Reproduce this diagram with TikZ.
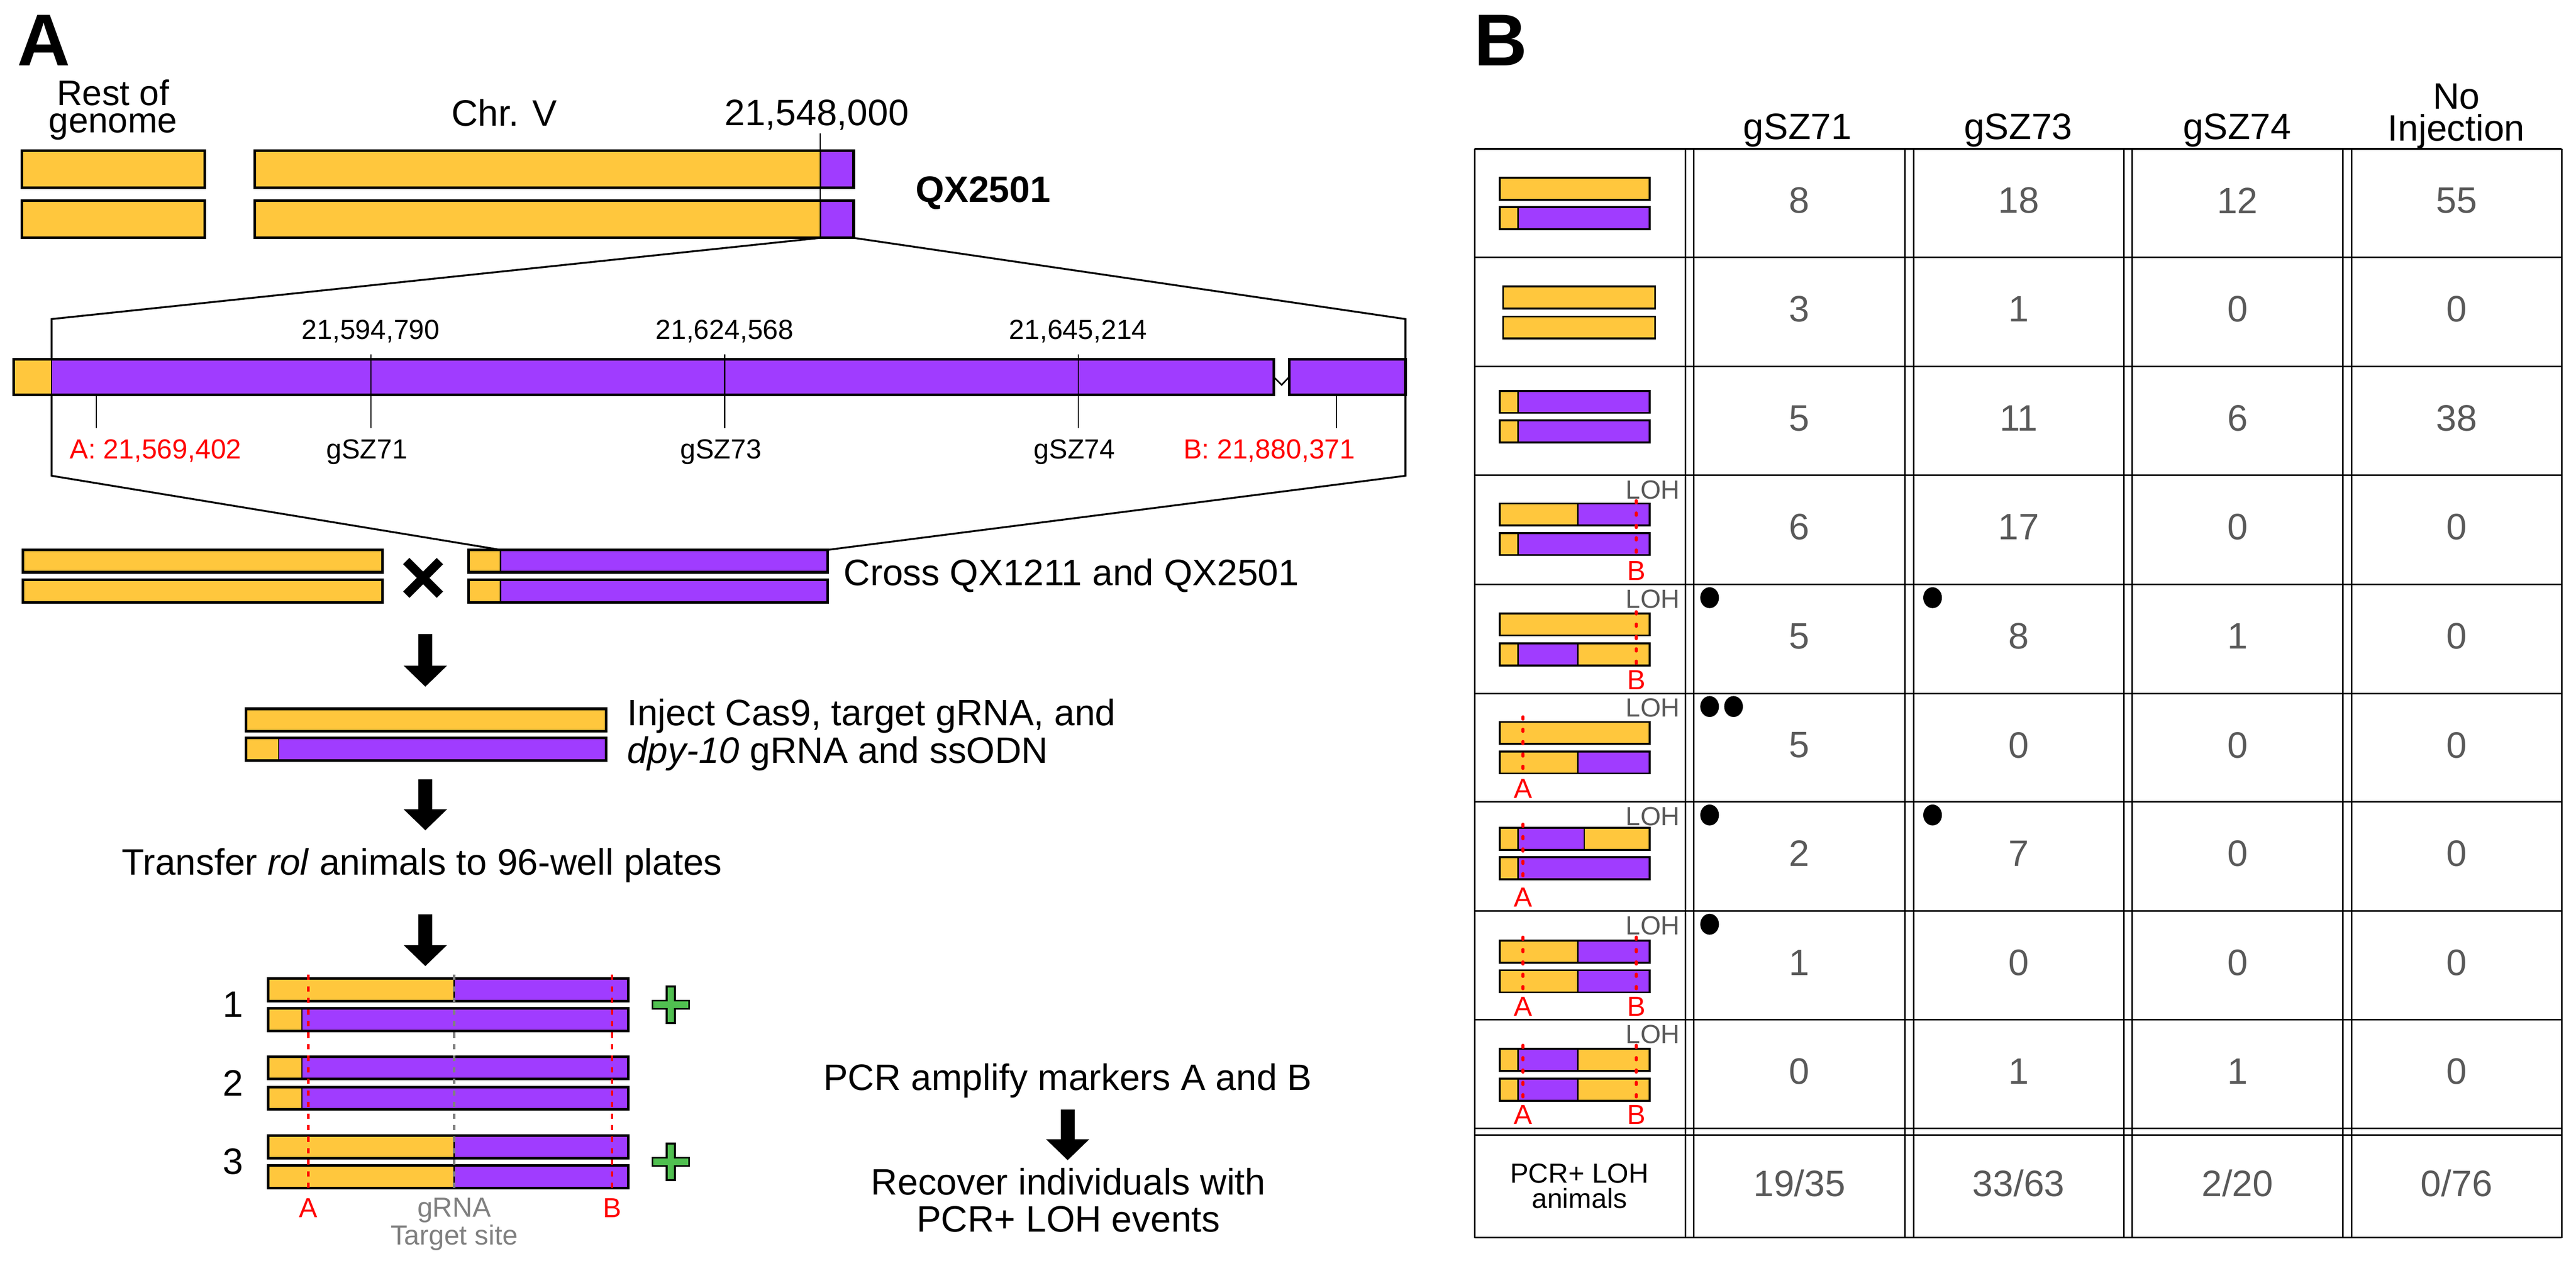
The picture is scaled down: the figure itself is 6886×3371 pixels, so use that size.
\documentclass[tikz,border=0pt]{standalone}
\usepackage{fontspec}
\setmainfont{Liberation Sans}
\usetikzlibrary{arrows.meta}
\definecolor{chryel}{RGB}{255,199,61}
\definecolor{chrpur}{RGB}{160,60,255}
\definecolor{plusgrn}{RGB}{80,192,80}
\definecolor{cntgray}{RGB}{89,89,89}
\tikzstyle{txt}=[inner sep=0pt, font=\fontsize{14}{14}\selectfont]
\tikzstyle{small}=[inner sep=0pt, font=\fontsize{10.5}{10.5}\selectfont]
\tikzstyle{panel}=[inner sep=0pt, font=\fontsize{28}{28}\selectfont\bfseries]
\tikzstyle{count}=[txt, text=cntgray]
\tikzstyle{redlbl}=[small, text=red]
\tikzstyle{loh}=[inner sep=0pt, font=\fontsize{10}{10}\selectfont, text=cntgray]
\tikzstyle{flow}=[line width=5.4pt, -{Triangle[width=16pt,length=8pt]}]
\tikzstyle{zoomline}=[line width=0.7pt]
\tikzstyle{tick}=[line width=0.4pt]
\tikzstyle{cut}=[red, line width=0.9pt, dash pattern=on 2pt off 2.4pt]
\tikzstyle{site}=[cut, gray]
\tikzstyle{cutb}=[red, line width=1pt, line cap=round, dash pattern=on 1pt off 3.7pt]
\tikzstyle{grid}=[line width=0.6pt]
% bar: [outline] left, purple from, purple to, right, top, height
\newcommand{\chbar}[7][1pt]{%
  \fill[chryel] (#2,#6) rectangle (#5,#6+#7);
  \ifdim #3pt<#4pt
    \fill[chrpur] (#3,#6) rectangle (#4,#6+#7);
    \draw[line width=0.5pt] (#3,#6) -- (#3,#6+#7) (#4,#6) -- (#4,#6+#7);
  \fi
  \draw[line width=#1] (#2,#6) rectangle (#5,#6+#7);}
\newcommand{\pcrplus}[1]{%
  \filldraw[fill=plusgrn, line width=0.7pt, shift={(#1)}]
    (-11,-49) -- (11,-49) -- (11,-11) -- (49,-11) -- (49,11) -- (11,11) -- (11,49)
    -- (-11,49) -- (-11,11) -- (-49,11) -- (-49,-11) -- (-11,-11) -- cycle;}

\begin{document}
\begin{tikzpicture}[x=0.005cm, y=-0.005cm]
\useasboundingbox (0,0) rectangle (6886,3371);

\node[panel, anchor=base west] (pA) at (45,176) {A};
\node[panel, anchor=base west] (pB) at (3939,176) {B};

% parental chromosomes
\node[inner sep=0pt, align=center, font=\fontsize{13.5}{10.3}\selectfont] (rest) at (302,294) {Rest of\\genome};
\node[txt, anchor=base] (chrV) at (1348,337) {Chr. V};
\node[txt, anchor=base] (brk) at (2183,335) {21,548,000};
\node[txt, anchor=base west, font=\fontsize{14}{14}\selectfont\bfseries] (qx) at (2446,540) {QX2501};
\chbar{58}{0}{0}{547}{403}{99}
\chbar{58}{0}{0}{547}{537}{99}
\chbar{681}{2193}{2282}{2282}{403}{99}
\chbar{681}{2193}{2282}{2282}{537}{99}
\draw[tick] (2193,357) -- (2193,636);

% zoom in on the right arm
\coordinate (zl) at (2193,636);
\coordinate (zr) at (2282,636);
\draw[zoomline] (zl) -- (138,853) -- (138,1272) -- (1338,1470);
\draw[zoomline] (zr) -- (3757,853) -- (3757,1272) -- (2213,1470);
\chbar{36}{138}{3405}{3405}{960}{95}
\chbar{3446}{3446}{3757}{3757}{960}{95}
\draw[line width=0.6pt] (3405,1008) -- (3426,1029) -- (3446,1008);
\foreach \x/\pos in {991/{21,594,790}, 1937/{21,624,568}, 2882/{21,645,214}} {
  \draw[tick] (\x,948) -- (\x,1144);
  \node[small, anchor=base] (pos\x) at (\x,907) {\pos};
}
\draw[tick] (257,1056) -- (257,1145);
\draw[tick] (3572,1056) -- (3572,1145);
\node[redlbl, anchor=base] (mA) at (416,1227) {A: 21,569,402};
\node[small, anchor=base] (g71) at (981,1227) {gSZ71};
\node[small, anchor=base] (g73) at (1927,1227) {gSZ73};
\node[small, anchor=base] (g74) at (2872,1227) {gSZ74};
\node[redlbl, anchor=base] (mB) at (3393,1227) {B: 21,880,371};

% cross
\chbar{61}{0}{0}{1023}{1470}{60}
\chbar{61}{0}{0}{1023}{1550}{61}
\chbar{1253}{1338}{2213}{2213}{1470}{60}
\chbar{1253}{1338}{2213}{2213}{1550}{61}
\draw[line width=3.4pt] (1086,1500) -- (1176,1590) (1086,1590) -- (1176,1500);
\node[txt, anchor=base west] (cross) at (2254,1565) {Cross QX1211 and QX2501};

\coordinate (a1s) at (1137,1695);
\coordinate (a1e) at (1137,1836);
\draw[flow] (a1s) -- (a1e);

% injection
\chbar{657}{0}{0}{1620}{1895}{60}
\chbar{657}{745}{1620}{1620}{1973}{60}
\node[txt, anchor=base west] (inj1) at (1675,1940) {Inject Cas9, target gRNA, and};
\node[txt, anchor=base west] (inj2) at (1675,2040) {\textit{dpy-10} gRNA and ssODN};

\coordinate (a2s) at (1137,2083);
\coordinate (a2e) at (1137,2220);
\draw[flow] (a2s) -- (a2e);
\node[txt, anchor=base] (transfer) at (1128,2339) {Transfer \textit{rol} animals to 96-well plates};
\coordinate (a3s) at (1137,2445);
\coordinate (a3e) at (1137,2583);
\draw[flow] (a3s) -- (a3e);

% possible outcomes
\chbar{717}{1214}{1680}{1680}{2616}{60}
\chbar{717}{807}{1680}{1680}{2696}{60}
\chbar{717}{807}{1680}{1680}{2825}{60}
\chbar{717}{807}{1680}{1680}{2906}{60}
\chbar{717}{1214}{1680}{1680}{3036}{60}
\chbar{717}{1214}{1680}{1680}{3116}{60}
\draw[cut] (824,2606) -- (824,3188);
\draw[cut] (1636,2606) -- (1636,3188);
\draw[site] (1214,2606) -- (1214,3188);
\node[txt] (o1) at (623,2686) {1};
\node[txt] (o2) at (623,2896) {2};
\node[txt] (o3) at (623,3106) {3};
\pcrplus{1793,2686}
\pcrplus{1793,3106}
\node[redlbl, anchor=base] (cA) at (824,3255) {A};
\node[redlbl, anchor=base] (cB) at (1636,3255) {B};
\node[small, text=gray, anchor=base] (gr1) at (1214,3253) {gRNA};
\node[small, text=gray, anchor=base] (gr2) at (1214,3328) {Target site};

\node[txt, anchor=base] (pcr) at (2854,2915) {PCR amplify markers A and B};
\coordinate (a4s) at (2854,2966);
\coordinate (a4e) at (2854,3102);
\draw[flow] (a4s) -- (a4e);
\node[txt, anchor=base] (rec1) at (2856,3194) {Recover individuals with};
\node[txt, anchor=base] (rec2) at (2856,3293) {PCR+ LOH events};

% B: table
\node[txt, anchor=base] (h71) at (4805,372) {gSZ71};
\node[txt, anchor=base] (h73) at (5395,372) {gSZ73};
\node[txt, anchor=base] (h74) at (5980,372) {gSZ74};
\node[txt, anchor=base] (hno1) at (6566,291) {No};
\node[txt, anchor=base] (hno2) at (6566,377) {Injection};
\foreach \yy in {398,688,980,1271,1563,1854,2144,2436,2726,3017,3034,3309}
  \draw[grid] (3942,\yy) -- (6848,\yy);
\foreach \xx in {3942,4506,4528,5092,5115,5677,5700,6263,6286,6848}
  \draw[grid] (\xx,398) -- (\xx,3309);
\foreach \T/\a/\b/\c/\d [count=\r] in {398/8/18/12/55, 688/3/1/0/0, 980/5/11/6/38,
    1271/6/17/0/0, 1563/5/8/1/0, 1854/5/0/0/0, 2144/2/7/0/0, 2436/1/0/0/0, 2726/0/1/1/0} {
  \node[count] (cnt\r-1) at (4810,\T+138) {\a};
  \node[count] (cnt\r-2) at (5396,\T+138) {\b};
  \node[count] (cnt\r-3) at (5981,\T+138) {\c};
  \node[count] (cnt\r-4) at (6567,\T+138) {\d};
}
\foreach \T in {1271,1563,1854,2144,2436,2726}
  \node[loh, anchor=base east] (loh\T) at (4492,\T+63) {LOH};
\node[small, align=center] (tot) at (4222,3171) {PCR+ LOH\\[-1pt]animals};
\node[count] (tot1) at (4810,3164) {19/35};
\node[count] (tot2) at (5396,3164) {33/63};
\node[count] (tot3) at (5981,3164) {2/20};
\node[count] (tot4) at (6567,3164) {0/76};

\chbar[0.7pt]{4009}{0}{0}{4410}{475}{59}
\chbar[0.7pt]{4009}{4058}{4410}{4410}{554}{59}
\chbar[0.7pt]{4018}{0}{0}{4424}{766}{59}
\chbar[0.7pt]{4018}{0}{0}{4424}{846}{59}
\chbar[0.7pt]{4009}{4058}{4410}{4410}{1045}{59}
\chbar[0.7pt]{4009}{4058}{4410}{4410}{1124}{59}
\chbar[0.7pt]{4009}{4218}{4410}{4410}{1346}{59}
\chbar[0.7pt]{4009}{4058}{4410}{4410}{1425}{59}
\chbar[0.7pt]{4009}{0}{0}{4410}{1640}{59}
\chbar[0.7pt]{4009}{4058}{4218}{4410}{1720}{59}
\chbar[0.7pt]{4009}{0}{0}{4410}{1930}{59}
\chbar[0.7pt]{4009}{4218}{4410}{4410}{2009}{59}
\chbar[0.7pt]{4009}{4058}{4235}{4410}{2213}{59}
\chbar[0.7pt]{4009}{4058}{4410}{4410}{2292}{59}
\chbar[0.7pt]{4009}{4218}{4410}{4410}{2515}{59}
\chbar[0.7pt]{4009}{4218}{4410}{4410}{2594}{59}
\chbar[0.7pt]{4009}{4058}{4218}{4410}{2804}{59}
\chbar[0.7pt]{4009}{4058}{4218}{4410}{2884}{59}
\foreach \T/\t in {1271/1338, 1563/1635, 2436/2505, 2726/2794} {
  \draw[cutb] (4374,\t) -- (4374,\t+150);
  \node[redlbl, anchor=base] (tB\T) at (4374,\T+280) {B};
}
\foreach \T/\t in {1854/1916, 2144/2203, 2436/2505, 2726/2794} {
  \draw[cutb] (4071,\t) -- (4071,\t+150);
  \node[redlbl, anchor=base] (tA\T) at (4071,\T+280) {A};
}
\foreach \x/\T in {4570/1563, 5166/1563, 4570/1854, 4634/1854, 4570/2144, 5166/2144, 4570/2436}
  \fill (\x,\T+35) ellipse [x radius=0.125cm, y radius=0.14cm];
\end{tikzpicture}
\end{document}
